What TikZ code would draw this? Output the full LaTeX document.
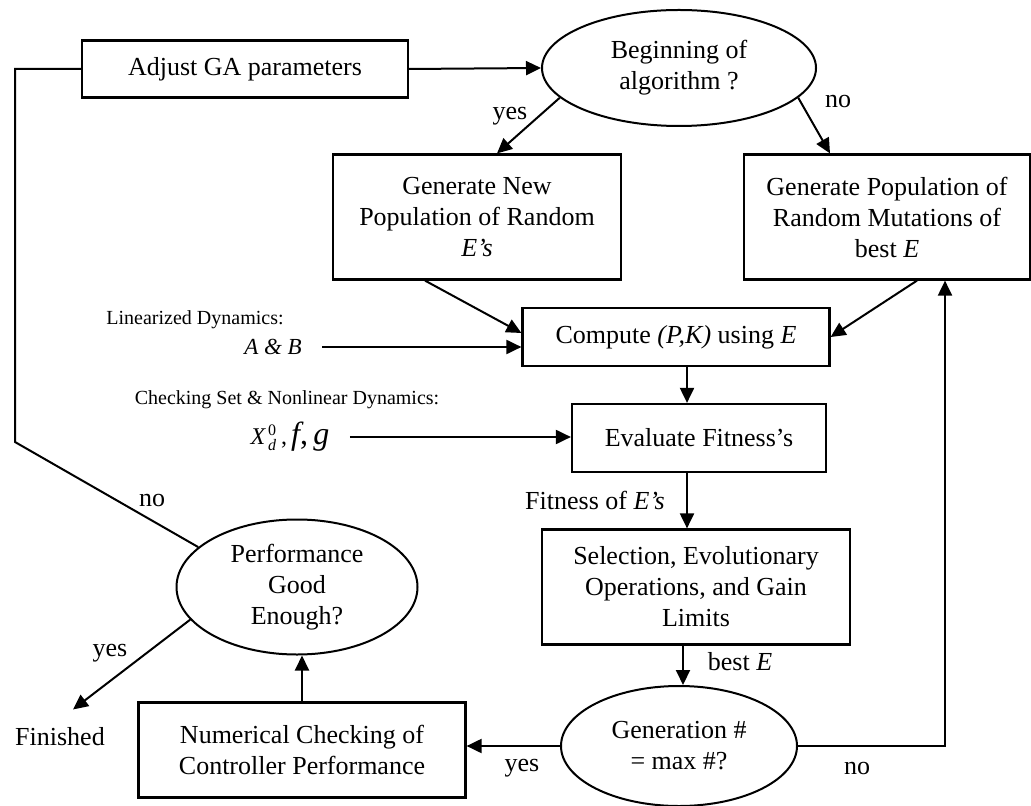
\documentclass[tikz,border=0pt]{standalone}
\usepackage{amsmath}
\usepackage{fontspec}
\setmainfont{Liberation Serif}
\usepackage{tikz}
\usetikzlibrary{shapes.geometric, arrows.meta}
\tikzset{procbox/.style={draw, rectangle, line width=1.1pt, align=center, inner sep=0pt, font=\fontsize{13}{15.5}\selectfont}}
\tikzset{decision/.style={draw, ellipse, line width=1pt, align=center, inner sep=0pt, font=\fontsize{13}{15.5}\selectfont}}
\tikzset{arr/.style={line width=1pt, -{Triangle[length=7.5pt, width=7pt]}}}
\tikzset{lbl/.style={font=\fontsize{13}{15.5}\selectfont, inner sep=0pt}}
\tikzset{smalllbl/.style={font=\fontsize{10}{12}\selectfont, inner sep=0pt}}

\begin{document}
\begin{tikzpicture}[x=0.5pt, y=-0.5pt]
    \useasboundingbox (0,0) rectangle (1031,806);

    \node[procbox, minimum width=163pt, minimum height=28.5pt] (adjust) at (245,69) {Adjust GA parameters};
    \node[decision, minimum width=137pt, minimum height=58pt] (begin) at (679,68) {Beginning of\\algorithm ?};
    \node[procbox, minimum width=144pt, minimum height=62.5pt] (gennew) at (477,217) {Generate New\\Population of Random\\\textit{E’s}};
    \node[procbox, minimum width=143pt, minimum height=62.5pt] (genpop) at (887,217) {Generate Population of\\Random Mutations of\\best \textit{E}};
    \node[procbox, minimum width=153.5pt, minimum height=29pt] (compute) at (676,337) {Compute \textit{(P,K)} using \textit{E}};
    \node[procbox, minimum width=127pt, minimum height=34pt] (evaluate) at (699,438) {Evaluate Fitness’s};
    \node[procbox, minimum width=154pt, minimum height=57.5pt] (select) at (696,587) {Selection, Evolutionary\\Operations, and Gain\\Limits};
    \node[decision, minimum width=118pt, minimum height=60pt] (genmax) at (679,746) {Generation \#\\= max \#?};
    \node[procbox, minimum width=163.5pt, minimum height=47.5pt] (numcheck) at (302,750) {Numerical Checking of\\Controller Performance};
    \node[decision, minimum width=120.5pt, minimum height=67.5pt] (perf) at (297,587) {Performance\\Good\\Enough?};
    \node[lbl] (finished) at (60,737) {Finished};

    % outside inputs
    \node[smalllbl] (lin) at (195,320) {Linearized Dynamics:};
    \node[smalllbl, font=\fontsize{11.5}{13}\selectfont] (ab) at (273,347) {\textit{A \& B}};
    \node[smalllbl] (chk) at (287,400) {Checking Set \& Nonlinear Dynamics:};
    \node[smalllbl, font=\fontsize{12}{14}\selectfont] (xfg) at (290,437) {$\textit{X}^{\,\textrm{0}}_{\,\textit{d}}$\,,\,{\fontsize{16}{18}\selectfont\textit{f},\,\textit{g}}};

    % labels
    \node[lbl] (yes1) at (510,116) {yes};
    \node[lbl] (no1) at (838,102) {no};
    \node[lbl] (fitlbl) at (595,500) {Fitness of \textit{E’s}};
    \node[lbl] (bestlbl) at (740,662) {best \textit{E}};
    \node[lbl] (no2) at (857,768) {no};
    \node[lbl] (yes2) at (522,768) {yes};
    \node[lbl] (yes3) at (110,653) {yes};
    \node[lbl] (no3) at (152,500) {no};

    \coordinate (bend) at (15,442);

    \draw[arr] (adjust.east) -- (begin.west);
    \draw[arr] (begin.194) -- ([xshift=10pt]gennew.north);
    \draw[arr] (begin.346) -- ([xshift=-28.5pt]genpop.north);
    \draw[arr] ([xshift=-26pt]gennew.south) -- ([yshift=2pt]compute.west);
    \draw[arr] ([xshift=15pt]genpop.south) -- (compute.east);
    \draw[arr] ([xshift=10pt]ab.east) -- ([yshift=-5pt]compute.west);
    \draw[arr] ([xshift=10pt]xfg.east) -- (xfg.east -| evaluate.west);
    \draw[arr] ([xshift=5.5pt]compute.south) -- ([xshift=5.5pt]compute.south |- evaluate.north);
    \draw[arr] ([xshift=-6pt]evaluate.south) -- ([xshift=-6pt]evaluate.south |- select.north);
    \draw[arr] ([xshift=-6.5pt]select.south) -- ([xshift=-6.5pt]select.south |- genmax.north);
    \draw[arr] (genmax.east) -| ([xshift=29pt]genpop.south);
    \draw[arr] (genmax.west) -- (genmax.west -| numcheck.east);
    \draw[arr] (numcheck.north) -- (numcheck.north |- perf.south);
    \draw[arr] (perf.197) -- ([xshift=6.5pt,yshift=9pt]finished.north);
    \draw[line width=1pt] (perf.158) -- (bend) |- (adjust.west);

\end{tikzpicture}
\end{document}
